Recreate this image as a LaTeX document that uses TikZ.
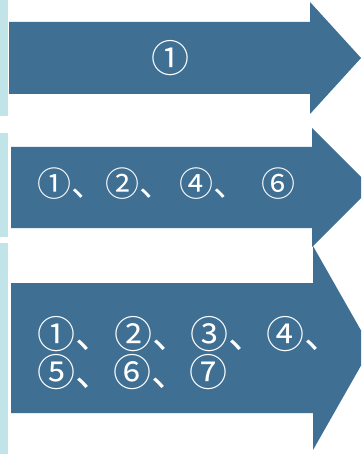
\documentclass[tikz,border=0pt]{standalone}
\usepackage{fontspec}
\newfontfamily\jpfont{Noto Sans CJK JP}
\definecolor{arrowblue}{RGB}{63,111,147}
\definecolor{stripcyan}{RGB}{192,228,232}
\tikzset{
  arrowfill/.style={fill=arrowblue},
  stripfill/.style={fill=stripcyan},
  lbl/.style={text=white, inner sep=0pt, outer sep=0pt},
}
\begin{document}
\begin{tikzpicture}[x=1pt,y=-1pt]
\useasboundingbox (0,0) rectangle (361,454);
\clip (0,0) rectangle (361,454);
\fill[white] (0,0) rectangle (361,454);
% left strip
\fill[stripfill] (0,0) rectangle (8,116);
\fill[stripfill] (0,133) rectangle (8,237);
\fill[stripfill] (0,243) rectangle (8,454);
% arrows
\fill[arrowfill] (9,22) -- (310,22) -- (310,2) -- (361,58) -- (310,114) -- (310,94) -- (9,94) -- cycle;
\fill[arrowfill] (11,147) -- (312,147) -- (312,128) -- (371.5,187.5) -- (312,247) -- (312,228) -- (11,228) -- cycle;
\fill[arrowfill] (11,283) -- (313,283) -- (313,246) -- (371,348) -- (313,450) -- (313,413) -- (11,413) -- cycle;
% texts
\node[lbl, font=\jpfont\fontsize{38}{38}\selectfont] (t1) at (170,58) {①};
\node[lbl, font=\jpfont\fontsize{34}{34}\selectfont, anchor=west] (t2) at (37,184) {①、②、\hspace{7pt}④、\hspace{14pt}⑥};
\node[lbl, font=\jpfont\fontsize{38}{38}\selectfont, anchor=west] (t3a) at (37,334) {①、\hspace{2pt}②、③、④、};
\node[lbl, font=\jpfont\fontsize{38}{38}\selectfont, anchor=west] (t3b) at (37,372) {⑤、⑥、⑦};
\end{tikzpicture}
\end{document}
